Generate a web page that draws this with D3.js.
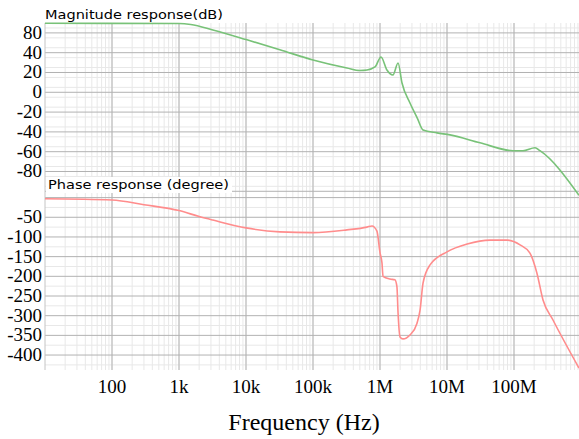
<!DOCTYPE html>
<html>
<head>
<meta charset="utf-8">
<script src="https://cdn.jsdelivr.net/npm/d3@7"></script>
<style>
  body { margin: 0; background: #fff; }
  svg { display: block; }
</style>
</head>
<body>
<div id="chart"></div>
<script>
// frequency (Hz) / magnitude (dB)
const magFreq = [10, 1000, 1500, 3200, 10350, 32000, 100000, 321000, 502000, 640000, 842000,
    1.035e6, 1.27e6, 1.56e6, 1.86e6, 2.13e6, 2.8e6, 3.6e6, 4.39e6, 7.1e6, 1.11e7, 3.11e7, 9.67e7,
    1.36e8, 2.06e8, 2.44e8, 9.33e8];
const magDb = [69.7, 69.5, 68.5, 63, 53, 43, 32.6, 24.5, 22, 22.5, 25.6,
    35.7, 22.5, 17.5, 29.6, 9.4, -10.8, -26, -38, -41, -43, -51, -59,
    -59, -56, -59, -104];

// frequency (Hz) / phase (degree)
const phaseFreq = [10, 100, 300, 1000, 2000, 3200, 10000, 32000, 100000, 320000, 640000,
    760000, 900000, 1e6, 1.07e6, 1.11e6, 1.41e6, 1.67e6, 1.79e6, 1.86e6, 1.99e6, 2.2e6,
    2.8e6, 3.57e6, 3.96e6, 4.39e6, 5.58e6, 1e7, 2e7, 4.4e7, 7.9e7, 1.23e8, 1.73e8, 2.2e8,
    2.71e8, 3.82e8, 9.33e8];
const phaseDeg = [-3, -6, -18, -33, -48, -57, -77, -87, -89, -82, -75,
    -72, -85, -140, -166, -200, -207, -209, -227, -293, -354, -359,
    -349, -319, -286, -217, -171, -138, -118, -108, -108, -120, -141, -192,
    -260, -311, -433];

const xTicks = [100, 1e3, 1e4, 1e5, 1e6, 1e7, 1e8];
const xTickLabels = ["100", "1k", "10k", "100k", "1M", "10M", "100M"];
const magTicks = [60, 40, 20, 0, -20, -40, -60, -80];
const magTickLabels = ["80", "40", "20", "0", "-20", "-40", "-60", "-80"];
const phaseTicks = [-50, -100, -150, -200, -250, -300, -350, -400];

const W = 579, H = 439;
const left = 45, right = 579, magTop = 23, split = 190, bottom = 370;

const svg = d3.select("#chart").append("svg")
    .attr("width", W)
    .attr("height", H);

const x = d3.scaleLog().domain([10, 1e9]).range([left, left + 8 * 67]);
const yMag = d3.scaleLinear().domain([70, -98.7]).range([magTop, split]);
const yPh = d3.scaleLinear().domain([19.3, -438]).range([split, bottom]);

// grid
const grid = svg.append("g");
const minorX = [];
for (let e = 1; e <= 8; e++) {
    for (let k = 2; k <= 9; k++) minorX.push(k * Math.pow(10, e));
}
grid.selectAll("line.vminor").data(minorX.filter(d => x(d) <= right))
    .enter().append("line")
    .attr("x1", d => x(d)).attr("x2", d => x(d))
    .attr("y1", magTop).attr("y2", bottom)
    .attr("stroke", "#e8e8e8");

const hMinor = d3.range(65, -100, -10).map(v => yMag(v))
    .concat(d3.range(-25, -440, -50).map(v => yPh(v)))
    .filter(y => y > magTop && y < bottom);
grid.selectAll("line.hminor").data(hMinor)
    .enter().append("line")
    .attr("x1", left).attr("x2", right)
    .attr("y1", d => d).attr("y2", d => d)
    .attr("stroke", "#e8e8e8");

grid.selectAll("line.vmajor").data(xTicks)
    .enter().append("line")
    .attr("x1", d => x(d)).attr("x2", d => x(d))
    .attr("y1", magTop).attr("y2", bottom)
    .attr("stroke", "#c8c8c8")
    .attr("stroke-width", 1.6);

const hMajor = d3.range(60, -101, -20).map(v => yMag(v))
    .concat(d3.range(0, -401, -50).map(v => yPh(v)))
    .filter(y => y > magTop && y < bottom);
grid.selectAll("line.hmajor").data(hMajor)
    .enter().append("line")
    .attr("x1", left).attr("x2", right)
    .attr("y1", d => d).attr("y2", d => d)
    .attr("stroke", "#b2b2b2");

svg.append("line")
    .attr("x1", left).attr("x2", left)
    .attr("y1", magTop).attr("y2", bottom)
    .attr("stroke", "#c4c4c4");

// tick labels
const tickFont = "'Liberation Serif', 'Times New Roman', serif";
svg.selectAll("text.ymag").data(magTicks)
    .enter().append("text")
    .attr("x", 42)
    .attr("y", (d, i) => yMag(d) + 6)
    .attr("text-anchor", "end")
    .style("font-family", tickFont)
    .style("font-size", "19px")
    .text((d, i) => magTickLabels[i]);

svg.selectAll("text.yph").data(phaseTicks)
    .enter().append("text")
    .attr("x", 42)
    .attr("y", d => yPh(d) + 6)
    .attr("text-anchor", "end")
    .style("font-family", tickFont)
    .style("font-size", "19px")
    .text(d => d);

svg.selectAll("text.xt").data(xTicks)
    .enter().append("text")
    .attr("x", d => x(d))
    .attr("y", 393)
    .attr("text-anchor", "middle")
    .style("font-family", tickFont)
    .style("font-size", "19px")
    .text((d, i) => xTickLabels[i]);

svg.append("text")
    .attr("x", 304)
    .attr("y", 430)
    .attr("text-anchor", "middle")
    .style("font-family", tickFont)
    .style("font-size", "24px")
    .text("Frequency (Hz)");

// panel titles
svg.append("text")
    .attr("x", 45)
    .attr("y", 19)
    .attr("textLength", 178)
    .attr("lengthAdjust", "spacingAndGlyphs")
    .style("font-family", "'DejaVu Sans', sans-serif")
    .style("font-size", "12px")
    .text("Magnitude response(dB)");

svg.append("rect")
    .attr("x", left + 1).attr("y", 177)
    .attr("width", 186).attr("height", 16)
    .attr("fill", "#fff");
svg.append("text")
    .attr("x", 48)
    .attr("y", 189)
    .attr("textLength", 181)
    .attr("lengthAdjust", "spacingAndGlyphs")
    .style("font-family", "'DejaVu Sans', sans-serif")
    .style("font-size", "12px")
    .text("Phase response (degree)");

// curves
const magLine = d3.line()
    .x((d, i) => x(magFreq[i]))
    .y(d => yMag(d))
    .curve(d3.curveMonotoneX);
svg.append("path")
    .datum(magDb)
    .attr("fill", "none")
    .attr("stroke", "#78c278")
    .attr("stroke-width", 1.6)
    .attr("d", magLine);

const phLine = d3.line()
    .x((d, i) => x(phaseFreq[i]))
    .y(d => yPh(d))
    .curve(d3.curveMonotoneX);
svg.append("path")
    .datum(phaseDeg)
    .attr("fill", "none")
    .attr("stroke", "#ff8c8c")
    .attr("stroke-width", 1.6)
    .attr("d", phLine);
</script>
</body>
</html>
